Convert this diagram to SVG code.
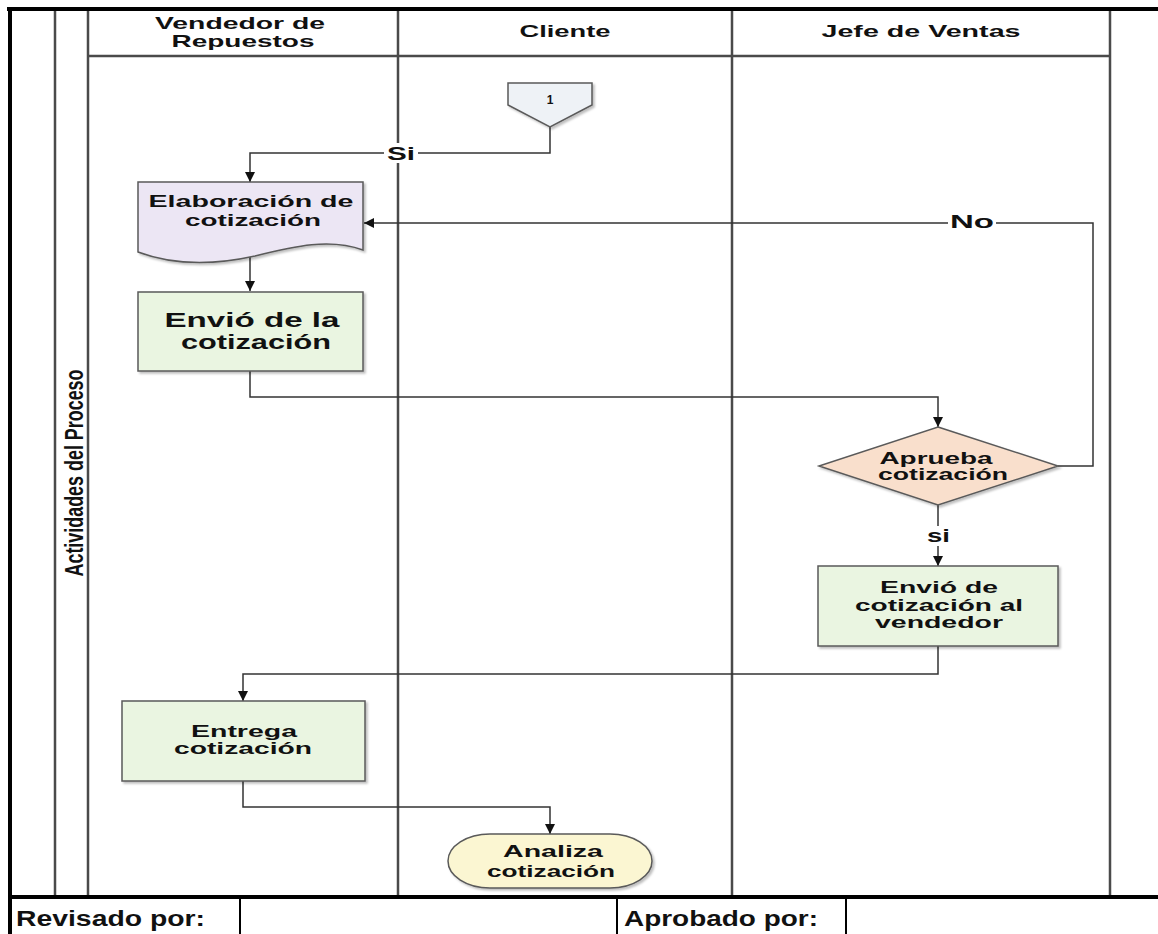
<svg xmlns="http://www.w3.org/2000/svg" width="1158" height="934" viewBox="0 0 1158 934">
  <defs>
    <marker id="arrow" viewBox="0 0 10 10" refX="10" refY="5" markerWidth="10" markerHeight="10" markerUnits="userSpaceOnUse" orient="auto">
      <path d="M0,0 L10,5 L0,10 Z" fill="#111"/>
    </marker>
    <filter id="shadow" x="-10%" y="-10%" width="125%" height="130%">
      <feDropShadow dx="2" dy="2" stdDeviation="1.2" flood-color="#000" flood-opacity="0.25"/>
    </filter>
  </defs>
  <style>
    .frame { stroke: #000; stroke-width: 4; fill: none; }
    .lane { stroke: #4a4a4a; stroke-width: 2.5; fill: none; }
    .cell { stroke: #000; stroke-width: 2; fill: none; }
    .conn { stroke: #333; stroke-width: 1.5; fill: none; }
    .shape { stroke: #5a5a5a; stroke-width: 1.5; filter: url(#shadow); }
    text { font-family: "Liberation Sans", Arial, sans-serif; font-weight: bold; fill: #111; text-anchor: middle; }
    .hdr { font-size: 17px; }
    .lbl { font-size: 16px; }
    .big { font-size: 20px; }
    .tag { font-size: 18px; }
    .foot { font-size: 22px; text-anchor: start; }
    .side { font-family: "Liberation Sans Narrow", "Liberation Sans", sans-serif; font-size: 26px; }
  </style>

  <rect width="1158" height="934" fill="#fff"/>

  <!-- swimlane frame -->
  <g id="frame">
    <line class="frame" x1="7" y1="9" x2="1158" y2="9"/>
    <line class="frame" x1="10" y1="7" x2="10" y2="934"/>
    <line class="frame" x1="8" y1="897" x2="1158" y2="897"/>
    <line class="lane" x1="55" y1="11" x2="55" y2="895"/>
    <line class="lane" x1="88" y1="11" x2="88" y2="895"/>
    <line class="lane" x1="398" y1="11" x2="398" y2="895"/>
    <line class="lane" x1="732" y1="11" x2="732" y2="895"/>
    <line class="lane" x1="1110" y1="11" x2="1110" y2="895"/>
    <line class="lane" x1="88" y1="56" x2="1110" y2="56" stroke-width="2"/>
  </g>

  <!-- lane headers -->
  <g id="lane-vendedor">
    <text class="hdr" x="240" y="29" textLength="170" lengthAdjust="spacingAndGlyphs">Vendedor de</text>
    <text class="hdr" x="243" y="47" textLength="143" lengthAdjust="spacingAndGlyphs">Repuestos</text>
  </g>
  <g id="lane-cliente">
    <text class="hdr" x="565" y="37" textLength="91" lengthAdjust="spacingAndGlyphs">Cliente</text>
  </g>
  <g id="lane-jefe">
    <text class="hdr" x="921" y="37" textLength="199" lengthAdjust="spacingAndGlyphs">Jefe de Ventas</text>
  </g>
  <g id="pool-label">
    <text class="side" transform="translate(83,473) rotate(-90)" x="0" y="0" textLength="207" lengthAdjust="spacingAndGlyphs">Actividades del Proceso</text>
  </g>

  <!-- connectors -->
  <g id="connectors">
    <polyline class="conn" points="550,127 550,153 250,153 250,182" marker-end="url(#arrow)"/>
    <polyline class="conn" points="250,257 250,291" marker-end="url(#arrow)"/>
    <polyline class="conn" points="250,371 250,397 938,397 938,427" marker-end="url(#arrow)"/>
    <polyline class="conn" points="1058,466 1093,466 1093,223 364,223" marker-end="url(#arrow)"/>
    <polyline class="conn" points="938,505 938,566" marker-end="url(#arrow)"/>
    <polyline class="conn" points="938,646 938,674 243,674 243,701" marker-end="url(#arrow)"/>
    <polyline class="conn" points="243,781 243,807 550,807 550,834" marker-end="url(#arrow)"/>
    <rect x="384" y="143" width="34" height="20" fill="#fff"/>
    <text class="tag" x="401" y="160" textLength="28" lengthAdjust="spacingAndGlyphs">Si</text>
    <rect x="948" y="213" width="48" height="20" fill="#fff"/>
    <text class="tag" x="972" y="228" font-size="17" textLength="44" lengthAdjust="spacingAndGlyphs">No</text>
    <rect x="924" y="526" width="28" height="20" fill="#fff"/>
    <text class="tag" x="938.5" y="542" textLength="23" lengthAdjust="spacingAndGlyphs">si</text>
  </g>

  <!-- off-page reference 1 -->
  <g id="ref-1">
    <path class="shape" d="M508,83 H592 V105 L550,127 L508,105 Z" fill="#eef2f6"/>
    <text x="550" y="104" font-size="12">1</text>
  </g>

  <g id="elaboracion">
    <path class="shape" d="M138,182 H363 V250 C330,238 295,246 255,256 C210,266 170,264 138,252 Z" fill="#ece6f4"/>
    <text class="hdr" x="251" y="207" textLength="205" lengthAdjust="spacingAndGlyphs">Elaboración de</text>
    <text class="hdr" x="253" y="226" textLength="136" lengthAdjust="spacingAndGlyphs">cotización</text>
  </g>

  <g id="envio-cotizacion">
    <rect class="shape" x="138" y="292" width="225" height="79" fill="#eaf5e1"/>
    <text class="big" x="252" y="327" textLength="175" lengthAdjust="spacingAndGlyphs">Envió de la</text>
    <text class="big" x="256" y="349" textLength="150" lengthAdjust="spacingAndGlyphs">cotización</text>
  </g>

  <g id="aprueba">
    <path class="shape" d="M938,427 L1058,466 L938,505 L819,466 Z" fill="#f9dfcc"/>
    <text class="lbl" x="936" y="464" textLength="113" lengthAdjust="spacingAndGlyphs">Aprueba</text>
    <text class="lbl" x="943" y="480" textLength="130" lengthAdjust="spacingAndGlyphs">cotización</text>
  </g>

  <g id="envio-vendedor">
    <rect class="shape" x="818" y="566" width="240" height="80" fill="#eaf5e1"/>
    <text class="lbl" x="939" y="593" textLength="118" lengthAdjust="spacingAndGlyphs">Envió de</text>
    <text class="lbl" x="939" y="611" textLength="168" lengthAdjust="spacingAndGlyphs">cotización al</text>
    <text class="lbl" x="939" y="628" textLength="128" lengthAdjust="spacingAndGlyphs">vendedor</text>
  </g>

  <g id="entrega">
    <rect class="shape" x="122" y="701" width="243" height="80" fill="#eaf5e1"/>
    <text class="lbl" x="244" y="737" textLength="106" lengthAdjust="spacingAndGlyphs">Entrega</text>
    <text class="lbl" x="243" y="754" textLength="138" lengthAdjust="spacingAndGlyphs">cotización</text>
  </g>

  <g id="analiza">
    <rect class="shape" x="448" y="834" width="204" height="54" rx="42" ry="27" fill="#fbf6d2"/>
    <text class="lbl" x="553" y="857" textLength="100" lengthAdjust="spacingAndGlyphs">Analiza</text>
    <text class="lbl" x="551" y="877" textLength="128" lengthAdjust="spacingAndGlyphs">cotización</text>
  </g>

  <!-- sign-off row -->
  <g id="signoff">
    <line class="cell" x1="240" y1="899" x2="240" y2="934"/>
    <line class="cell" x1="617" y1="899" x2="617" y2="934"/>
    <line class="cell" x1="846" y1="899" x2="846" y2="934"/>
    <text class="foot" x="16" y="926" textLength="189" lengthAdjust="spacingAndGlyphs">Revisado por:</text>
    <text class="foot" x="624" y="926" textLength="194" lengthAdjust="spacingAndGlyphs">Aprobado por:</text>
  </g>
</svg>
